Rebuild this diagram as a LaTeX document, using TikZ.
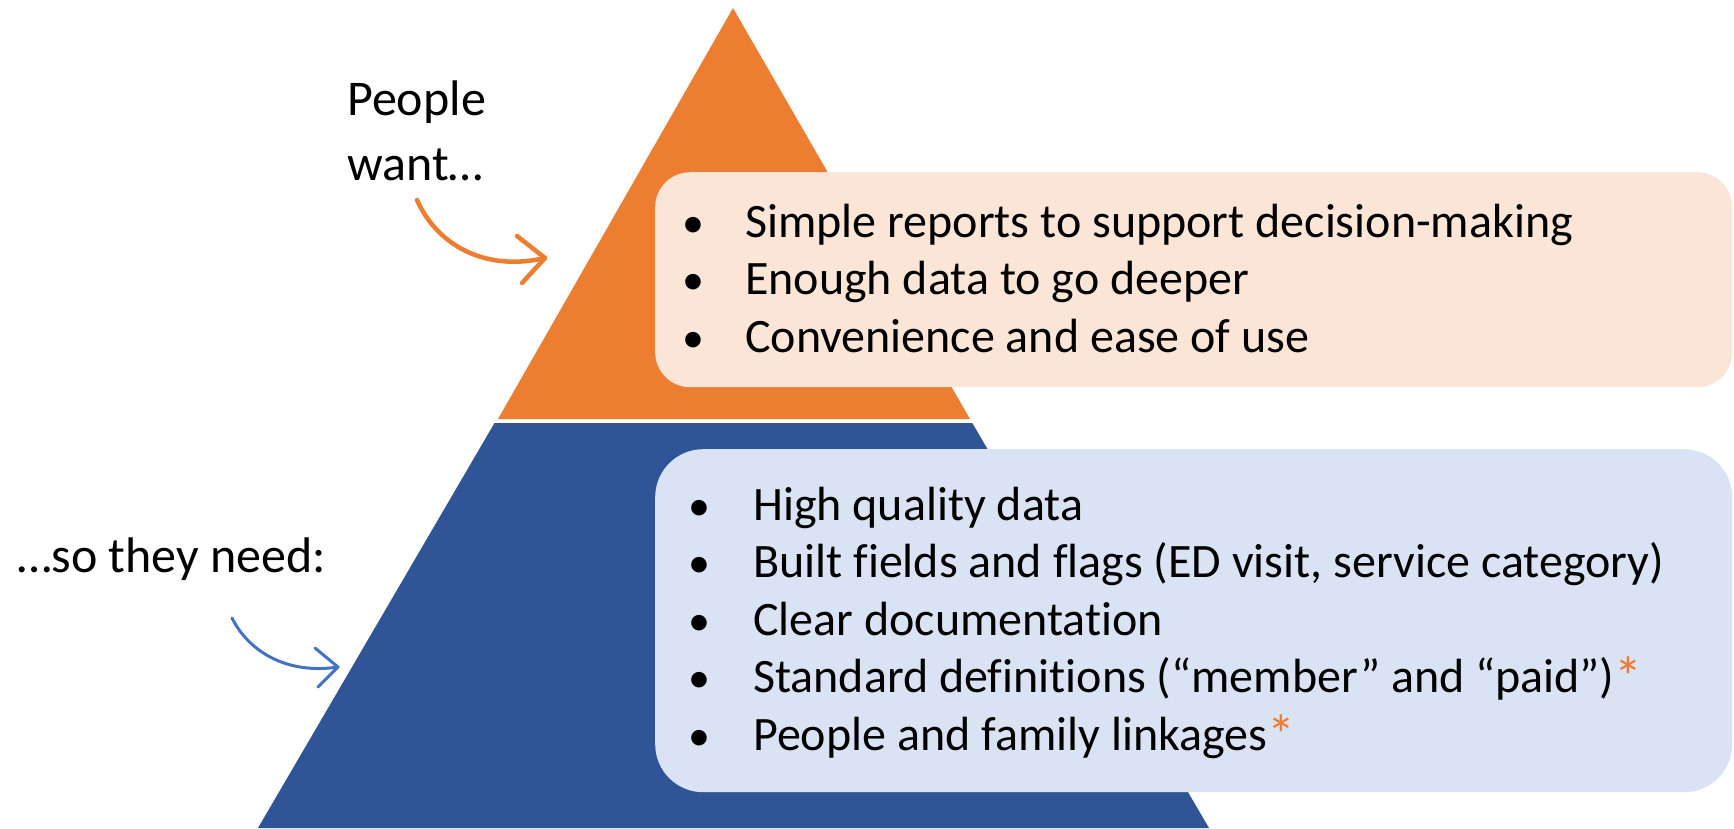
\documentclass[tikz,border=0pt]{standalone}
\usepackage{fontspec}
\setmainfont[Ligatures=NoCommon]{Carlito}
\definecolor{pyrorange}{HTML}{ED7D31}
\definecolor{pyrblue}{HTML}{2F5597}
\definecolor{boxorange}{HTML}{FBE5D6}
\definecolor{boxblue}{HTML}{DAE3F3}
\definecolor{arrowblue}{HTML}{4472C4}
\newcommand{\orangestar}{\raisebox{-4pt}{\fontsize{56}{57}\selectfont\textcolor{pyrorange}{*}}}
\begin{document}
\begin{tikzpicture}[x=1pt,y=-1pt,
  bullettext/.style={anchor=base west, inner sep=0pt, font=\fontsize{48}{57}\selectfont},
  bulletdot/.style={anchor=base, inner sep=0pt, font=\fontsize{44}{57}\selectfont},
  labeltext/.style={anchor=base west, inner sep=0pt, font=\fontsize{50}{60}\selectfont},
  panel/.style={anchor=north west, inner sep=0pt, draw=none},
  curvearrow/.style={line cap=round, line join=round}]
\useasboundingbox (0,0) rectangle (1734,828);
% pyramid
\fill[pyrorange] (733,8) -- (970,419) -- (498,419) -- cycle;
\fill[pyrblue] (494.5,423) -- (972.3,423) -- (1209,828) -- (258,828) -- cycle;
% panels
\node[panel, fill=boxorange, rounded corners=35pt, minimum width=1077pt, minimum height=215pt] (wantbox) at (655,172) {};
\node[panel, fill=boxblue, rounded corners=48pt, minimum width=1077pt, minimum height=343pt] (needbox) at (655,449) {};
% labels
\node[labeltext] (people) at (347,115) {People};
\node[labeltext] (want) at (347,180) {want…};
\node[labeltext] (need) at (17,572) {…so they need:};
% arrows
\coordinate (wa) at (417,200);
\coordinate (wt) at (545,258);
\draw[curvearrow, pyrorange, line width=4.5pt] (wa) .. controls (437,245) and (485,272) .. (wt);
\draw[curvearrow, pyrorange, line width=4.5pt] (wt) ++(-28,-22) -- (wt) -- ++(-23,25);
\coordinate (na) at (232,618);
\coordinate (nt) at (338,667);
\draw[curvearrow, arrowblue, line width=3pt] (na) .. controls (248,650) and (285,675) .. (nt);
\draw[curvearrow, arrowblue, line width=3pt] (nt) ++(-23,-19) -- (nt) -- ++(-20,20);
% want bullets
\node[bulletdot] (wd1) at (693,237) {•};
\node[bulletdot] (wd2) at (693,294.5) {•};
\node[bulletdot] (wd3) at (693,352) {•};
\node[bullettext] (w1) at (745,237) {Simple reports to support decision-making};
\node[bullettext] (w2) at (745,294.5) {Enough data to go deeper};
\node[bullettext] (w3) at (745,352) {Convenience and ease of use};
% need bullets
\node[bulletdot] (nd1) at (699,520) {•};
\node[bulletdot] (nd2) at (699,577.5) {•};
\node[bulletdot] (nd3) at (699,635) {•};
\node[bulletdot] (nd4) at (699,692.5) {•};
\node[bulletdot] (nd5) at (699,750) {•};
\node[bullettext] (n1) at (753,520) {High quality data};
\node[bullettext] (n2) at (753,577.5) {Built fields and flags (ED visit, service category)};
\node[bullettext] (n3) at (753,635) {Clear documentation};
\node[bullettext] (n4) at (753,692.5) {Standard definitions (“member” and “paid”)\orangestar};
\node[bullettext] (n5) at (753,750) {People and family linkages\orangestar};
\end{tikzpicture}
\end{document}
